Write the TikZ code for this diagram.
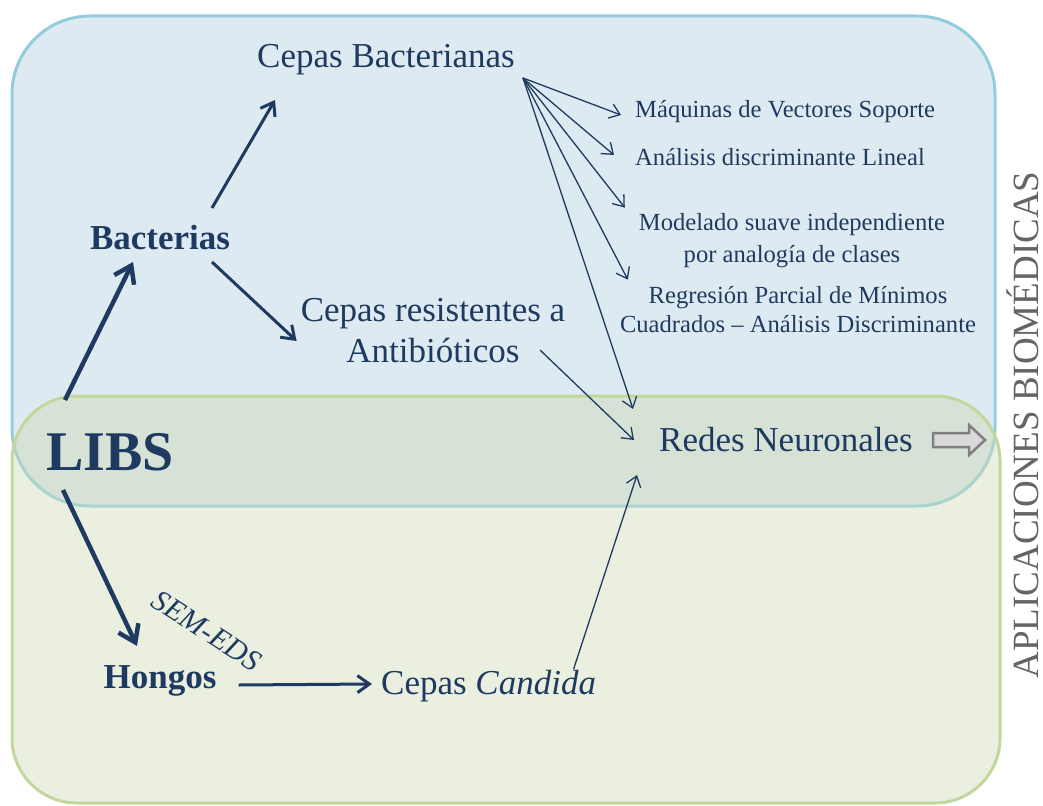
\documentclass[tikz,border=0pt]{standalone}
\usepackage{fontspec}
\setmainfont{Liberation Serif}
\usetikzlibrary{arrows.meta,calc}
\definecolor{navy}{HTML}{1F3A60}
\definecolor{bluefill}{HTML}{DEEAF1}
\definecolor{blueline}{HTML}{93CDDD}
\definecolor{greenfill}{RGB}{205,217,179}
\definecolor{greenline}{HTML}{C3D69B}
\definecolor{labelgray}{HTML}{646464}
\definecolor{arrowgray}{HTML}{7F7F7F}
\definecolor{arrowfill}{HTML}{D9D9D9}
\begin{document}
\begin{tikzpicture}[x=1pt,y=-1pt,
  lbl/.style={text=navy, inner sep=0pt, align=center},
  big/.style={font=\fontsize{35}{41}\selectfont},
  small/.style={font=\fontsize{24.6}{30}\selectfont},
  thick link/.style={draw=navy, line width=4.5pt, -{Straight Barb[length=16pt,width=22pt]}},
  mid link/.style={draw=navy, line width=3pt, -{Straight Barb[length=12pt,width=17pt]}},
  thin link/.style={draw=navy, line width=1.3pt, -{Straight Barb[length=10pt,width=15pt]}},
  block arrow/.style={draw=arrowgray, fill=arrowfill, line width=2.5pt, line join=miter}]
\useasboundingbox (0,0) rectangle (1043,805);

% the two application domains
\draw[fill=bluefill, draw=blueline, line width=3pt, rounded corners=78pt]
  (12,16) rectangle (995,506);
\fill[greenfill, fill opacity=0.42, rounded corners=65pt]
  (12,396) rectangle (1000,803);
\draw[draw=greenline, line width=3pt, rounded corners=65pt]
  (12,396) rectangle (1000,803);

% labels
\node[lbl, big] (cb) at (386,60) {Cepas Bacterianas};
\node[lbl, font=\fontsize{35}{41}\selectfont\bfseries] (bac) at (160,238) {Bacterias};
\node[lbl, big] (res) at (433,331) {Cepas resistentes a\\Antibióticos};
\node[lbl, font=\fontsize{56}{62}\selectfont\bfseries] (libs) at (110,452) {LIBS};
\node[lbl, big] (redes) at (786,440) {Redes Neuronales};
\node[lbl, font=\fontsize{35}{41}\selectfont\bfseries] (hon) at (160,681) {Hongos};
\node[lbl, big, anchor=west] (can) at (381,686) {Cepas \textit{Candida}};
\node[lbl, font=\fontsize{30}{34}\selectfont\itshape, rotate=-33] (sem) at (207,631) {SEM-EDS};
\node[lbl, small, anchor=west] (svm) at (635,112) {Máquinas de Vectores Soporte};
\node[lbl, small, anchor=west] (lda) at (635,157) {Análisis discriminante Lineal};
\node[lbl, font=\fontsize{24.6}{32}\selectfont] (simca) at (792,241) {Modelado suave independiente\\por analogía de clases};
\node[lbl, font=\fontsize{24.6}{29}\selectfont] (pls) at (798,310) {Regresión Parcial de Mínimos\\Cuadrados – Análisis Discriminante};
\node[text=labelgray, inner sep=0pt, font=\fontsize{37}{40}\selectfont, rotate=90] (apl) at (1023,425) {APLICACIONES BIOMÉDICAS};

% output arrow after the last method
\coordinate (outTail) at ($(redes.east)+(20,0)$);
\draw[block arrow] (outTail) ++(0,-7) -- ++(36,0) -- ++(0,-8) -- ++(16,15)
  -- ++(-16,15) -- ++(0,-8) -- ++(-36,0) -- cycle;

% connector end points, placed around the labels
\coordinate (libsA) at ($(libs)+(-45,-52)$);
\coordinate (libsB) at ($(libs)+(-47,38)$);
\coordinate (bacIn) at ($(bac)+(-27,24)$);
\coordinate (bacA) at ($(bac)+(52,-30)$);
\coordinate (bacB) at ($(bac)+(52,24)$);
\coordinate (cbIn) at ($(cb)+(-111,40)$);
\coordinate (cbOut) at ($(cb.east)+(8,18)$);
\coordinate (resIn) at ($(res.west)+(-4,10)$);
\coordinate (resOut) at ($(res)+(107,19)$);
\coordinate (honIn) at ($(hon)+(-23,-35)$);
\coordinate (honOut) at ($(hon.east)+(22,4)$);
\coordinate (canIn) at ($(can.west)+(-9,-2)$);
\coordinate (canOut) at ($(can)+(85,-17)$);
\coordinate (redesA) at ($(redes.west)+(-26,-31)$);
\coordinate (redesB) at ($(redes.west)+(-25,0)$);
\coordinate (redesC) at ($(redes.west)+(-22,35)$);
\coordinate (svmIn) at ($(svm.west)+(-14,3)$);
\coordinate (ldaIn) at ($(lda.west)+(-21,-2)$);
\coordinate (simcaIn) at ($(simca.north west)+(-14,-6)$);
\coordinate (plsIn) at ($(pls.north west)+(8,-7)$);

\draw[thick link] (libsA) -- (bacIn);
\draw[thick link] (libsB) -- (honIn);
\draw[mid link] (bacA) -- (cbIn);
\draw[mid link] (bacB) -- (resIn);
\draw[mid link] (honOut) -- (canIn);
\draw[thin link] (cbOut) -- (svmIn);
\draw[thin link] (cbOut) -- (ldaIn);
\draw[thin link] (cbOut) -- (simcaIn);
\draw[thin link] (cbOut) -- (plsIn);
\draw[thin link] (cbOut) -- (redesA);
\draw[thin link] (resOut) -- (redesB);
\draw[thin link] (canOut) -- (redesC);
\end{tikzpicture}
\end{document}
